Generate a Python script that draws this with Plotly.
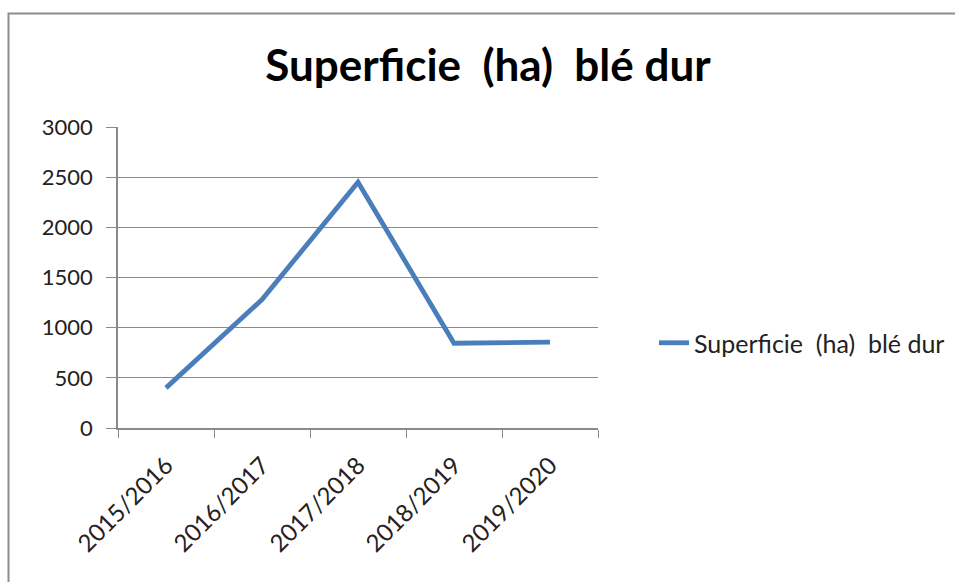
import plotly.graph_objects as go

categories = ["2015/2016", "2016/2017", "2017/2018", "2018/2019", "2019/2020"]
values = [400, 1280, 2450, 845, 855]
series_name = "Superficie&nbsp; (ha)&nbsp; blé dur"
title_text = "Superficie&nbsp; (ha)&nbsp; blé dur"
y_ticks = [0, 500, 1000, 1500, 2000, 2500, 3000]

W, H = 955, 582
L, R, T, B = 118, 598, 127, 428

def px(X):
    return (X - L) / (R - L)

def py(Y):
    return (B - Y) / (B - T)

FONT = "Lato"
GRID = "#8a8a8a"

fig = go.Figure()
fig.add_trace(go.Scatter(
    x=categories, y=values, mode="lines", name=series_name,
    line=dict(color="#4a7ebb", width=4.8),
    showlegend=True,
))

fig.update_layout(
    width=W, height=H,
    margin=dict(l=L, r=W - R, t=T, b=H - B, pad=0, autoexpand=False),
    paper_bgcolor="white", plot_bgcolor="white",
    font=dict(family=FONT, size=22, color="#222222"),
    title=dict(text="<b>" + title_text + "</b>", x=px(488), xref="paper", xanchor="center",
               y=1 - 66 / H, yanchor="middle",
               font=dict(family=FONT, size=44, color="#000000")),
    showlegend=True,
    legend=dict(x=px(654), y=py(343), xanchor="left", yanchor="middle",
                font=dict(family=FONT, size=25, color="#222222"),
                bgcolor="rgba(0,0,0,0)"),
    xaxis=dict(type="category", tickson="boundaries", ticks="outside", ticklen=8,
               tickcolor=GRID, showline=True, linecolor=GRID, linewidth=1.5,
               showgrid=False, tickangle=-45, range=[-0.5, 4.5],
               ticklabelstandoff=12, automargin=False,
               tickfont=dict(family=FONT, size=24, color="#222222")),
    yaxis=dict(range=[0, 3000], tickvals=y_ticks, ticks="outside", ticklen=10,
               tickcolor=GRID, showline=True, linecolor=GRID, linewidth=1.5,
               showgrid=True, gridcolor=GRID, gridwidth=1.2, zeroline=False,
               ticklabelstandoff=9, automargin=False,
               tickfont=dict(family=FONT, size=22, color="#222222")),
    shapes=[dict(type="rect", xref="paper", yref="paper",
                 x0=px(8.5), y0=py(600), x1=px(975), y1=py(13.5),
                 line=dict(color="#8c8c8c", width=2), fillcolor="rgba(0,0,0,0)",
                 layer="below")],
)

fig.write_html("out.html", config={"displayModeBar": False},
               post_script="document.body.style.margin='0';document.body.style.overflow='hidden';")
